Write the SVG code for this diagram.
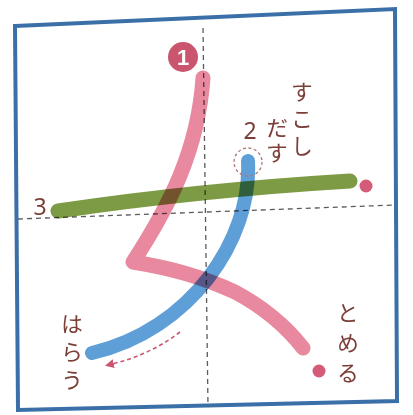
<svg xmlns="http://www.w3.org/2000/svg" width="413" height="415" viewBox="0 0 413 415">
<style>
.guide{fill:none;stroke:#5a5a5a;stroke-width:1.3;stroke-dasharray:5 4}
.brush{fill:none;stroke-linecap:round;stroke-linejoin:round;mix-blend-mode:multiply}
.lbl{font-family:"Noto Sans CJK JP","Noto Sans",sans-serif;font-size:22px;fill:#7b3f38;writing-mode:vertical-rl}
.num{font-family:"Noto Sans","Liberation Sans",sans-serif;font-size:23px;fill:#7b3f38;text-anchor:middle}
</style>
<defs>
<marker id="tri" viewBox="0 0 10 10" refX="2" refY="5" markerWidth="9" markerHeight="9" orient="auto" markerUnits="userSpaceOnUse">
<path d="M10,0 L0,5 L10,10 Z" fill="#c9566e" transform="rotate(180 5 5)"/>
</marker>
</defs>
<rect width="413" height="415" fill="#ffffff"/>
<g id="frame">
<path d="M15,26 L395,9 L397,401 L18,410 Z" fill="#ffffff" stroke="#3a6fa8" stroke-width="4"/>
</g>
<g id="guides">
<path class="guide" d="M203,28 L208,407"/>
<path class="guide" d="M18,219 L395,205"/>
</g>
<g id="stroke3">
<path class="brush" d="M58,211 Q200,190 350,181" stroke="#7d9a45" stroke-width="15"/>
</g>
<g id="stroke1">
<path class="brush" d="M203,78 C198,150 170,205 133,262 C170,268 200,276 235,292 C265,308 285,325 303,348" stroke="#e8899f" stroke-width="15"/>
</g>
<g id="stroke2">
<path class="brush" d="M248,161 C252,240 190,330 92,353" stroke="#5f9fd8" stroke-width="14"/>
</g>
<g id="marks">
<circle cx="248" cy="162" r="14" fill="none" stroke="#b07575" stroke-width="1.3" stroke-dasharray="3 2.5"/>
<circle cx="366" cy="186" r="6.5" fill="#d45c78"/>
<circle cx="319" cy="371" r="6.5" fill="#d45c78"/>
</g>
<g id="connectors">
<path d="M180,332 Q150,355 112,364" fill="none" stroke="#c9566e" stroke-width="1.6" stroke-dasharray="4 3" marker-end="url(#tri)"/>
</g>
<g id="badge1">
<circle cx="183" cy="57" r="15" fill="#c9566e"/>
<text x="183" y="65" font-family="Liberation Sans,sans-serif" font-weight="bold" font-size="22" fill="#ffffff" text-anchor="middle">1</text>
</g>
<g id="labels">
<text class="num" x="250" y="139">2</text>
<text class="num" x="40" y="215">3</text>
<text class="lbl" x="302" y="81" letter-spacing="5">すこし</text>
<text class="lbl" x="277" y="117" letter-spacing="3">だす</text>
<text class="lbl" x="72" y="313" letter-spacing="6">はらう</text>
<text class="lbl" x="348" y="302" letter-spacing="8">とめる</text>
</g>
</svg>
